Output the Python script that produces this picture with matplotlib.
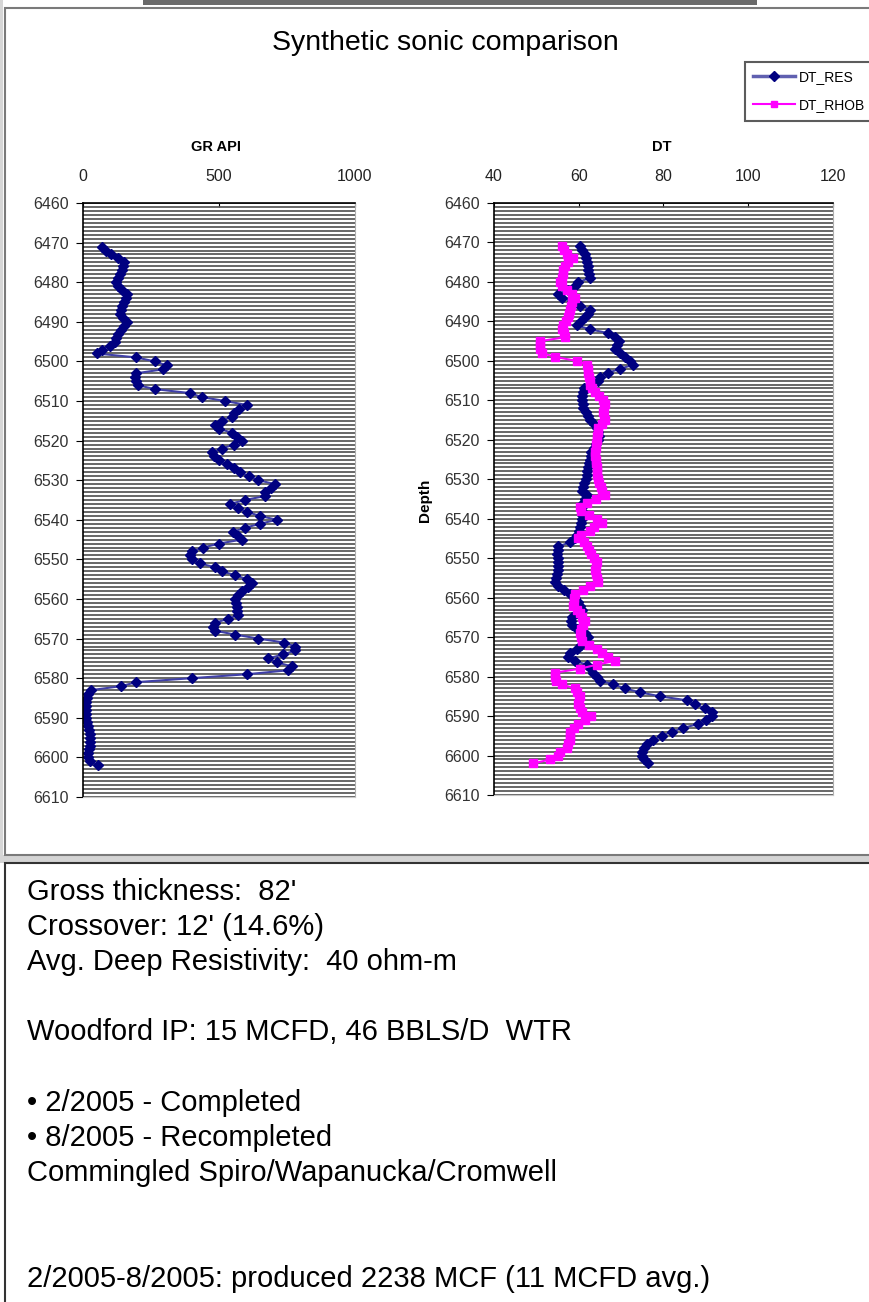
import numpy as np
import matplotlib.pyplot as plt
from matplotlib.patches import Rectangle
from matplotlib.lines import Line2D
from matplotlib.ticker import MultipleLocator

plt.rcParams['font.family'] = ['Liberation Sans', 'DejaVu Sans']

# depth in feet, one sample per foot
depth = np.arange(6471, 6603)

gr_api = [70, 85, 104, 129, 150, 148, 142, 135, 128, 123,
          130, 145, 160, 157, 152, 145, 138, 135, 148, 160,
          150, 138, 128, 122, 117, 98, 70, 50, 196, 264,
          307, 295, 196, 190, 195, 202, 264, 393, 436, 522,
          602, 575, 555, 547, 510, 485, 500, 547, 565, 583,
          555, 510, 473, 480, 500, 530, 555, 577, 610, 645,
          706, 690, 669, 669, 596, 540, 570, 602, 650, 712,
          651, 596, 552, 570, 583, 500, 442, 400, 393, 399,
          430, 485, 510, 560, 602, 620, 605, 583, 570, 559,
          562, 565, 568, 571, 534, 485, 479, 485, 560, 645,
          740, 780, 780, 737, 681, 712, 767, 755, 602, 399,
          196, 141, 31, 20, 15, 12, 12, 12, 12, 12,
          15, 18, 22, 25, 25, 25, 25, 22, 18, 18,
          25, 55]

dt_res = [60.3, 60.8, 61.5, 61.7, 61.9, 62.1, 62.3, 62.5, 62.7, 59.9,
          59.1, 57.5, 55.2, 56.0, 58.5, 60.3, 62.7, 62.3, 61.5, 60.5,
          59.5, 62.7, 67.0, 68.6, 69.4, 69.0, 68.6, 69.8, 71.0, 72.1,
          72.9, 69.7, 67.0, 65.0, 64.6, 62.5, 61.3, 61.0, 60.8, 60.7,
          60.9, 61.1, 61.6, 62.2, 62.7, 63.5, 64.2, 64.5, 64.8, 64.6,
          64.0, 63.5, 63.0, 62.8, 62.7, 62.4, 62.2, 62.0, 61.9, 61.6,
          61.3, 61.0, 60.7, 61.9, 61.5, 61.0, 60.8, 60.7, 60.7, 60.7,
          60.5, 60.3, 60.0, 59.5, 59.1, 57.9, 55.2, 55.0, 54.8, 55.0,
          55.2, 55.2, 55.0, 54.8, 54.6, 54.4, 55.2, 56.5, 57.9, 59.0,
          59.9, 60.3, 60.7, 59.5, 58.3, 58.1, 58.3, 59.5, 61.5, 62.3,
          61.5, 60.5, 59.5, 58.0, 57.5, 59.1, 61.9, 62.8, 63.4, 64.3,
          65.0, 68.2, 70.9, 74.5, 79.2, 85.5, 87.4, 89.8, 91.4, 91.4,
          90.0, 88.2, 84.7, 81.9, 79.6, 77.6, 76.0, 75.3, 74.9, 74.9,
          75.5, 76.4]

dt_rhob = [56.0, 56.6, 57.2, 58.7, 57.5, 56.8, 56.4, 56.2, 56.0, 55.5,
           56.0, 57.2, 58.5, 59.1, 58.3, 58.1, 57.9, 57.7, 57.5, 57.0,
           56.4, 56.0, 56.5, 56.8, 50.9, 50.9, 50.9, 51.3, 54.4, 59.5,
           61.9, 62.1, 62.3, 62.4, 62.6, 62.7, 63.2, 63.8, 64.8, 65.8,
           66.2, 66.0, 65.8, 66.0, 66.2, 65.4, 64.6, 64.6, 64.4, 64.2,
           64.0, 64.0, 63.9, 63.8, 64.0, 64.1, 64.2, 64.3, 64.4, 64.6,
           64.8, 65.2, 65.6, 66.2, 64.0, 61.9, 60.3, 60.5, 62.5, 64.2,
           65.4, 63.5, 62.7, 60.5, 59.9, 61.2, 61.9, 62.5, 63.0, 63.6,
           64.2, 64.0, 63.8, 64.0, 64.3, 64.6, 62.7, 61.0, 59.1, 58.9,
           58.8, 58.7, 59.5, 60.3, 60.7, 61.5, 61.1, 60.5, 60.3, 60.5,
           60.7, 62.5, 64.2, 65.6, 67.0, 68.6, 64.2, 60.3, 54.4, 54.4,
           54.6, 56.0, 59.1, 59.7, 60.3, 60.0, 59.9, 60.3, 60.7, 63.0,
           61.5, 59.9, 58.8, 57.9, 57.9, 57.9, 57.5, 57.2, 55.6, 55.0,
           53.2, 49.3]

notes = [
    (892, "Gross thickness:  82'"),
    (927, "Crossover: 12' (14.6%)"),
    (962, "Avg. Deep Resistivity:  40 ohm-m"),
    (1032, "Woodford IP: 15 MCFD, 46 BBLS/D  WTR"),
    (1103, "\u2022 2/2005 - Completed"),
    (1138, "\u2022 8/2005 - Recompleted"),
    (1173, "Commingled Spiro/Wapanucka/Cromwell"),
    (1279, "2/2005-8/2005: produced 2238 MCF (11 MCFD avg.)"),
]

W, H = 870, 1302
fig = plt.figure(figsize=(W / 100, H / 100), dpi=100)
fig.patch.set_facecolor('white')


def box(x, y, w, h):
    # pixel rectangle (top-left origin) -> figure fraction
    return [x / W, 1 - (y + h) / H, w / W, h / H]


def patch(x, y, w, h, **kw):
    b = box(x, y, w, h)
    fig.add_artist(Rectangle((b[0], b[1]), b[2], b[3], zorder=-5,
                             transform=fig.transFigure, **kw))


# spreadsheet bits around the chart object
patch(143, 0, 614, 5, facecolor='#6a6a6a', edgecolor='none')
patch(0, 0, 3, 860, facecolor='#d6d6d6', edgecolor='none')
patch(0, 855, W, 8, facecolor='#d4d4d4', edgecolor='none')
patch(5, 8, W + 10, 847, facecolor='white', edgecolor='#7a7a7a', lw=1.5)
patch(5, 863, W + 10, H, facecolor='white', edgecolor='#333333', lw=1.5)


def log_track(rect, xlim, xticks):
    ax = fig.add_axes(rect)
    ax.set_xlim(*xlim)
    ax.set_ylim(6610, 6460)
    ax.set_xticks(xticks)
    ax.set_yticks(np.arange(6460, 6611, 10))
    ax.yaxis.set_minor_locator(MultipleLocator(1))
    ax.grid(axis='y', which='both', color='#555555', lw=1.25)
    ax.set_axisbelow(True)
    ax.xaxis.tick_top()
    ax.tick_params(axis='x', direction='in', length=3, pad=14,
                   labelsize=11.5, labelcolor='#222222')
    ax.tick_params(axis='y', which='major', direction='out', length=5,
                   pad=5, labelsize=11.5, labelcolor='#333333')
    ax.tick_params(axis='y', which='minor', length=0)
    ax.spines['right'].set_color('#b0b0b0')
    ax.spines['bottom'].set_color('#c8c8c8')
    ax.spines['left'].set_linewidth(1.2)
    ax.spines['top'].set_linewidth(1.2)
    return ax


ax1 = log_track(box(83, 203, 272, 594), (0, 1000), [0, 500, 1000])
ax1.plot(gr_api, depth, color='#4040a8', lw=1.5, marker='D', ms=5.5,
         mfc='#000080', mec='#000080')

ax2 = log_track(box(494, 203, 339, 592), (40, 120), [40, 60, 80, 100, 120])
ax2.plot(dt_res, depth, color='#4040a8', lw=1.5, marker='D', ms=5.5,
         mfc='#000080', mec='#000080')
ax2.plot(dt_rhob, depth, color='#ff00ff', lw=1.5, marker='s', ms=5.5,
         mfc='#ff00ff', mec='#ff00ff')

fig.text(445 / W, 1 - 43 / H, 'Synthetic sonic comparison', fontsize=20.5,
         ha='center', va='center')
fig.text(216 / W, 1 - 147 / H, 'GR API', fontsize=10.5, fontweight='bold',
         ha='center', va='center')
fig.text(662 / W, 1 - 147 / H, 'DT', fontsize=10.5, fontweight='bold',
         ha='center', va='center')
fig.text(425 / W, 1 - 500 / H, 'Depth', fontsize=11, fontweight='bold',
         rotation=90, ha='center', va='center')

handles = [
    Line2D([], [], color='#6060b0', lw=2.5, marker='D', ms=5,
           mfc='#000080', mec='#000080'),
    Line2D([], [], color='#ff00ff', lw=1.5, marker='s', ms=5,
           mfc='#ff00ff', mec='#ff00ff'),
]
leg = fig.legend(handles, ['DT_RES', 'DT_RHOB'], loc='upper left',
                 bbox_to_anchor=(745 / W, 1 - 62 / H), frameon=True,
                 fancybox=False, fontsize=10, handlelength=3.0,
                 handletextpad=0.25, borderpad=0.6, labelspacing=1.0,
                 borderaxespad=0)
leg.get_frame().set_edgecolor('#333333')
leg.get_frame().set_linewidth(1.5)

for y, line in notes:
    fig.text(27 / W, 1 - y / H, line, fontsize=21, ha='left', va='center')

fig.savefig('out.png', dpi=100)
